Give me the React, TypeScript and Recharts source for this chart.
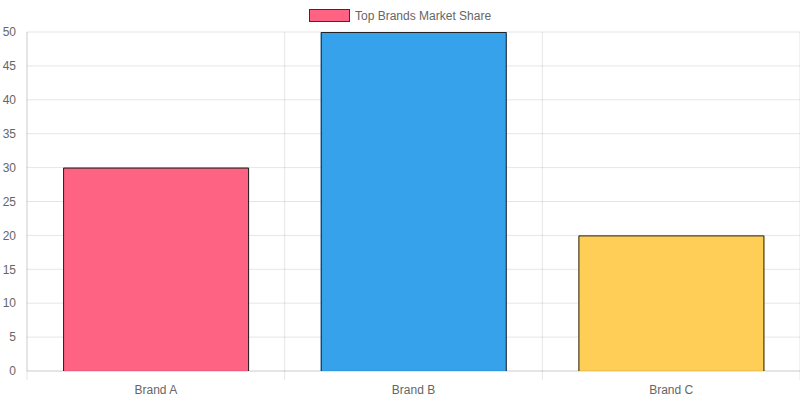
import React from 'react';
import { BarChart, Bar, XAxis, YAxis, CartesianGrid, Cell } from 'recharts';

const brands = ['Brand A', 'Brand B', 'Brand C'];
const shares = [30, 50, 20];
const colors = ['#FF6384', '#36A2EB', '#FFCE56'];
const yTicks = [0, 5, 10, 15, 20, 25, 30, 35, 40, 45, 50];
const seriesName = 'Top Brands Market Share';

const data = brands.map((name, i) => ({ name, value: shares[i] }));

const FONT = '"Liberation Sans", Arial, sans-serif';
const GRID = 'rgba(0,0,0,0.1)';

// bar with border on top/left/right only (bottom skipped)
const BarShape = (props: any) => {
  const { x, y, width, height, fill } = props;
  if (height <= 0) return null;
  return (
    <g>
      <rect x={x} y={y} width={width} height={height} fill={fill} />
      <path
        d={`M${x + 0.5},${y + height} L${x + 0.5},${y + 0.5} L${x + width - 0.5},${y + 0.5} L${x + width - 0.5},${y + height}`}
        stroke="#222"
        strokeWidth={1}
        fill="none"
      />
    </g>
  );
};

const XTick = (props: any) => {
  const { x, y, payload, index, width, visibleTicksCount } = props;
  const band = (width ?? 773) / (visibleTicksCount ?? brands.length);
  const left = x - band / 2;
  return (
    <g>
      <line x1={left} x2={left} y1={y - 8} y2={y + 1} stroke={GRID} />
      {index === brands.length - 1 && (
        <line x1={x + band / 2} x2={x + band / 2} y1={y - 8} y2={y + 1} stroke={GRID} />
      )}
      <text x={x} y={y + 15} textAnchor="middle" fill="#666" fontSize={12} fontFamily={FONT}>
        {payload.value}
      </text>
    </g>
  );
};

export default function App() {
  return (
    <div style={{ position: 'absolute', left: 0, top: 0, width: 800, height: 400, background: '#fff' }}>
      <svg width={800} height={30} style={{ position: 'absolute', left: 0, top: 0 }}>
        <rect x={309.5} y={9.5} width={40} height={12} fill={colors[0]} stroke="#333" strokeWidth={1} />
        <text x={355} y={20} fill="#666" fontSize={12} fontFamily={FONT}>
          {seriesName}
        </text>
      </svg>
      <BarChart
        width={800}
        height={400}
        data={data}
        margin={{ top: 32, right: 0, bottom: 0, left: 0 }}
        barCategoryGap="14%"
      >
        <CartesianGrid
          stroke={GRID}
          verticalCoordinatesGenerator={({ offset }: any) => [
            offset.left,
            offset.left + offset.width / 3,
            offset.left + (2 * offset.width) / 3,
            offset.left + offset.width,
          ]}
        />
        <XAxis
          dataKey="name"
          height={29}
          axisLine={{ stroke: GRID }}
          tickLine={false}
          tick={<XTick />}
          interval={0}
        />
        <YAxis
          width={27}
          domain={[0, 50]}
          ticks={yTicks}
          axisLine={{ stroke: GRID }}
          tickLine={false}
          tickSize={0}
          tickMargin={11}
          tick={{ fill: '#666', fontSize: 12, fontFamily: FONT }}
        />
        <Bar dataKey="value" name={seriesName} shape={<BarShape />} isAnimationActive={false}>
          {data.map((d, i) => (
            <Cell key={d.name} fill={colors[i]} />
          ))}
        </Bar>
      </BarChart>
    </div>
  );
}
